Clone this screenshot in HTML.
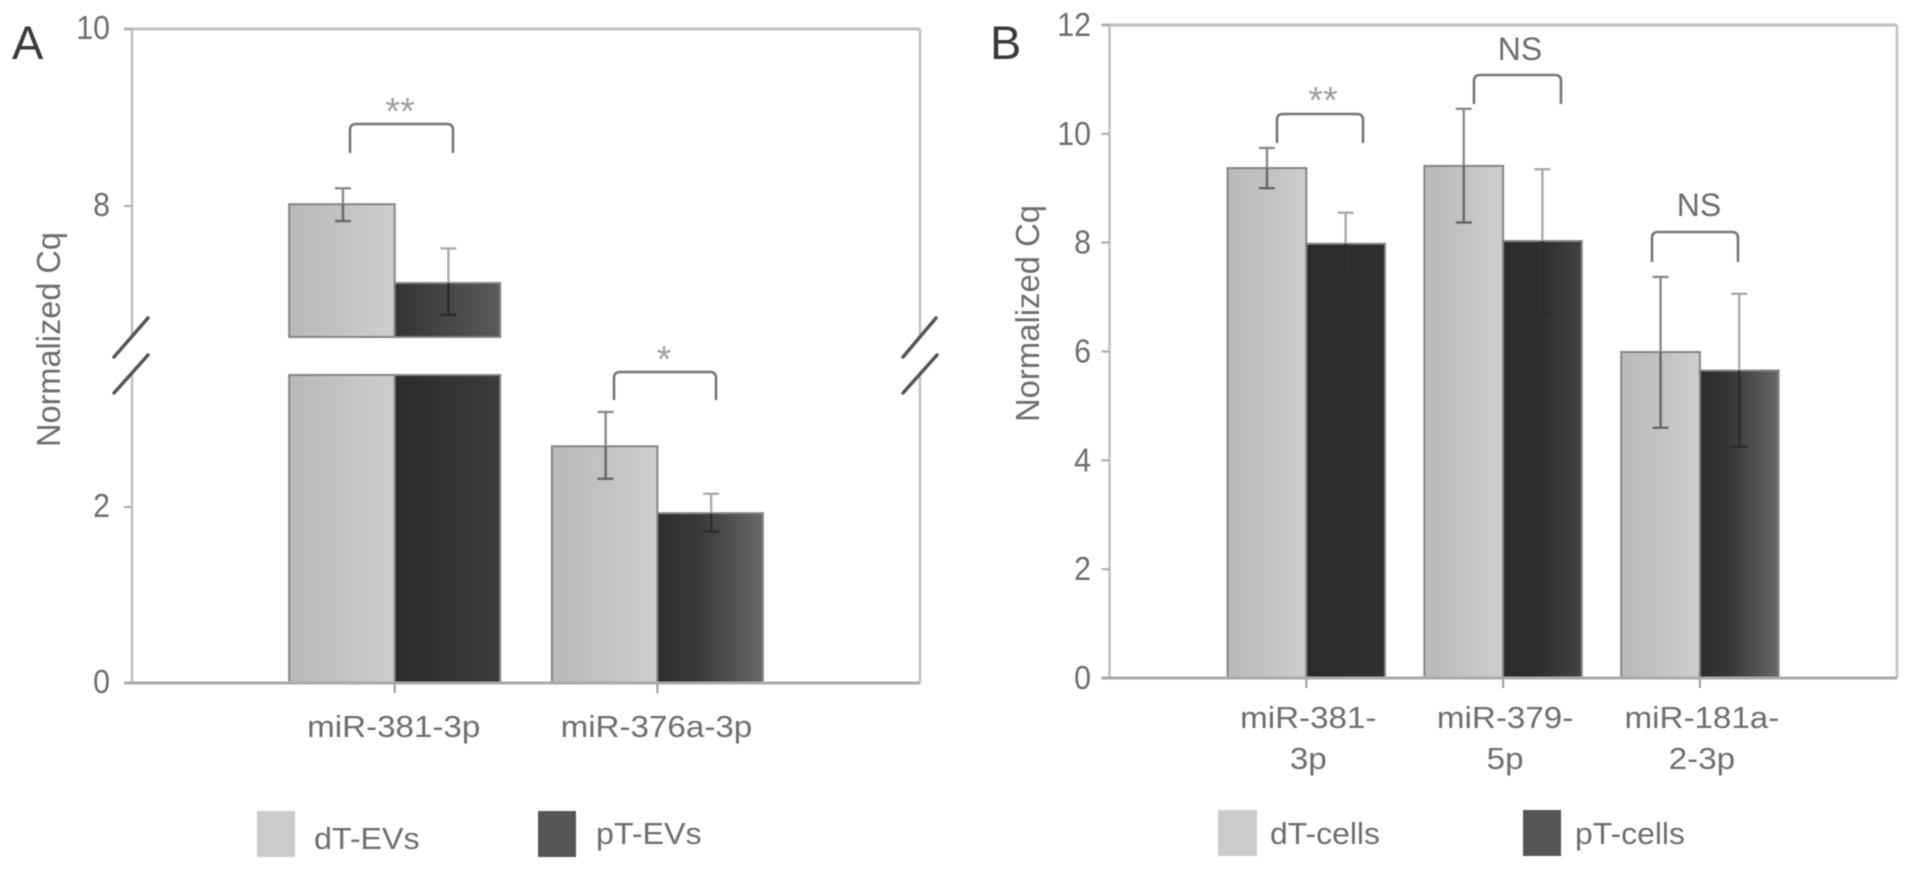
<!DOCTYPE html>
<html lang="en">
<head>
<meta charset="utf-8">
<title>Normalized Cq bar charts</title>
<style>
html,body{margin:0;padding:0;background:#fff;width:1913px;height:870px;overflow:hidden}
svg{display:block;filter:blur(0.6px)}
text{font-family:"Liberation Sans",sans-serif;fill:#6e6e6e}
</style>
</head>
<body>
<svg id="figure" xmlns="http://www.w3.org/2000/svg" width="1913" height="870" viewBox="0 0 1913 870">
  <defs>
    <linearGradient id="light-bar"><stop offset="0" stop-color="#b9b9b9"/><stop offset="0.55" stop-color="#c4c4c4"/><stop offset="1" stop-color="#cecece"/></linearGradient>
    <linearGradient id="dark-a0"><stop offset="0" stop-color="#2c2c2c"/><stop offset="1" stop-color="#3c3c3c"/></linearGradient>
    <linearGradient id="dark-a0-top"><stop offset="0" stop-color="#333"/><stop offset="1" stop-color="#5a5a5a"/></linearGradient>
    <linearGradient id="dark-a1"><stop offset="0" stop-color="#2e2e2e"/><stop offset="0.4" stop-color="#3a3a3a"/><stop offset="1" stop-color="#686868"/></linearGradient>
    <linearGradient id="dark-b0"><stop offset="0" stop-color="#2c2c2c"/><stop offset="1" stop-color="#303030"/></linearGradient>
    <linearGradient id="dark-b1"><stop offset="0" stop-color="#2c2c2c"/><stop offset="0.5" stop-color="#2e2e2e"/><stop offset="1" stop-color="#444"/></linearGradient>
    <linearGradient id="dark-b2"><stop offset="0" stop-color="#2c2c2c"/><stop offset="0.4" stop-color="#383838"/><stop offset="1" stop-color="#686868"/></linearGradient>
  </defs>

  <g id="panel-a"></g>
  <g id="panel-b"></g>

  <text x="12" y="59" font-size="47" style="fill:#3a3a3a">A</text>
  <text x="990" y="59" font-size="47" style="fill:#3a3a3a">B</text>

  <text transform="translate(60,339.5) rotate(-90) scale(0.985,1)" text-anchor="middle" font-size="33">Normalized Cq</text>
  <text transform="translate(1039,313.5) rotate(-90) scale(0.995,1)" text-anchor="middle" font-size="33">Normalized Cq</text>

  <g stroke="#555" stroke-width="3.5" stroke-linecap="round">
    <line x1="148" y1="318" x2="114" y2="357"/><line x1="148" y1="355" x2="114" y2="393"/>
  </g>
  <g stroke="#555" stroke-width="3.5" stroke-linecap="round">
    <line x1="936" y1="318" x2="903" y2="357"/><line x1="937" y1="355" x2="903" y2="393"/>
  </g>

  <g fill="none" stroke="#777" stroke-width="2.6">
    <path d="M350 153V130Q350 124 356 124H447Q453 124 453 130V153"/>
    <path d="M614 400V378Q614 372 620 372H710Q716 372 716 378V400"/>
    <path d="M1277 143V120Q1277 114 1283 114H1357Q1363 114 1363 120V143"/>
    <path d="M1474 104V81Q1474 75 1480 75H1555Q1561 75 1561 81V104"/>
    <path d="M1652 262V238Q1652 232 1658 232H1732Q1738 232 1738 238V262"/>
  </g>
  <text x="400" y="124" text-anchor="middle" font-size="38" style="fill:#a0a0a0">**</text>
  <text x="664" y="372" text-anchor="middle" font-size="38" style="fill:#a0a0a0">*</text>
  <text x="1323" y="113" text-anchor="middle" font-size="38" style="fill:#a0a0a0">**</text>
  <text x="1520" y="60" text-anchor="middle" font-size="32">NS</text>
  <text x="1699" y="216" text-anchor="middle" font-size="32">NS</text>

  <rect x="257" y="811" width="38" height="46" fill="#cbcbcb"/>
  <text transform="translate(314,849) scale(1.04,1)" font-size="31">dT-EVs</text>
  <rect x="538" y="811" width="38" height="46" fill="#555"/>
  <text transform="translate(596,844) scale(1.04,1)" font-size="31">pT-EVs</text>
  <rect x="1218" y="810" width="39" height="46" fill="#cbcbcb"/>
  <text transform="translate(1270,844) scale(1.03,1)" font-size="31">dT-cells</text>
  <rect x="1523" y="810" width="38" height="46" fill="#555"/>
  <text transform="translate(1575,844) scale(1.03,1)" font-size="31">pT-cells</text>
</svg>

<script>
// Panel A data
const aCategories = ["miR-381-3p", "miR-376a-3p"];
const aTicks = [0, 2, 8, 10];
const aDtValues = [8.02, 2.69];
const aDtErrHigh = [8.2, 3.08];
const aDtErrLow = [7.83, 2.32];
const aPtValues = [7.13, 1.93];
const aPtErrHigh = [7.52, 2.15];
const aPtErrLow = [6.77, 1.72];
const aBreakLow = 3.5;
const aBreakHigh = 6.52;

// Panel B data
const bCategoryLine1 = ["miR-381-", "miR-379-", "miR-181a-"];
const bCategoryLine2 = ["3p", "5p", "2-3p"];
const bTicks = [0, 2, 4, 6, 8, 10, 12];
const bDtValues = [9.37, 9.41, 5.99];
const bDtErrHigh = [9.74, 10.46, 7.37];
const bDtErrLow = [9.0, 8.37, 4.6];
const bPtValues = [7.98, 8.03, 5.65];
const bPtErrHigh = [8.55, 9.35, 7.06];
const bPtErrLow = [7.41, 6.7, 4.25];

const NS = "http://www.w3.org/2000/svg";

function make(parent, tag, props) {
  const el = document.createElementNS(NS, tag);
  for (const k in props) el.setAttribute(k, props[k]);
  parent.appendChild(el);
  return el;
}

// Axis functions
function yA(v) {
  if (v <= aBreakLow) return 683 - v * 88;
  if (v >= aBreakHigh) return 206 - (v - 8) * 88.5;
  return 375 - (v - aBreakLow) / (aBreakHigh - aBreakLow) * 38;
}
function yB(v) { return 678 - v * 54.42; }
function xA(i) { return 132 + (i + 1) * 262.7; }
function xB(i) { return 1109.5 + (i + 1) * 196.8; }

const AXIS_COLOR = "#c2c2c2";

function drawFrame(g, prefix, left, right, top, bottom, gapTop, gapBottom) {
  const tl = make(g, "line", {x1: left - 8, y1: top, x2: right, y2: top, stroke: AXIS_COLOR, "stroke-width": 3});
  
  
  [[left, "left"], [right, "right"]].forEach(function (side) {
    const ranges = gapTop ? [[top, gapTop], [gapBottom, bottom]] : [[top, bottom]];
    ranges.forEach(function (r) {
      const s = make(g, "line", {x1: side[0], y1: r[0], x2: side[0], y2: r[1], stroke: AXIS_COLOR, "stroke-width": 2.6});
      
      
    });
  });
}

function drawYTicks(g, prefix, ticks, yFn, left, labelRight, labelShift) {
  ticks.forEach(function (t) {
    const y = yFn(t);
    const tick = make(g, "line", {x1: left - 8, y1: y, x2: left, y2: y, stroke: "#aaa", "stroke-width": 2});
    
    
    const label = make(g, "text", {transform: "translate(" + labelRight + "," + (y + labelShift) + ") scale(0.92,1)", "text-anchor": "end", "font-size": 33});
    label.textContent = String(t);
    
    
  });
}

function drawRect(g, name, x, w, yTop, yBottom, fill) {
  const r = make(g, "rect", {x: x, y: yTop, width: w, height: Math.max(0, yBottom - yTop), fill: fill, stroke: "#858585", "stroke-width": 2});
  
  
}

function drawError(g, name, x, yHigh, yLow, yBarTop, upperColor, lowerColor, capHalf) {
  const err = make(g, "g", {});
  
  
  make(err, "line", {x1: x, y1: yHigh, x2: x, y2: yBarTop, stroke: upperColor, "stroke-width": 2.4});
  make(err, "line", {x1: x, y1: yBarTop, x2: x, y2: yLow, stroke: lowerColor, "stroke-width": 2.4});
  make(err, "line", {x1: x - capHalf, y1: yHigh, x2: x + capHalf, y2: yHigh, stroke: upperColor, "stroke-width": 2.4});
  make(err, "line", {x1: x - capHalf, y1: yLow, x2: x + capHalf, y2: yLow, stroke: lowerColor, "stroke-width": 2.4});
}

// Panel A
(function () {
  const g = document.getElementById("panel-a");
  const bw = 105.5;
  drawFrame(g, "panel-a", 132, 920, 29, 683, 337, 375);
  aCategories.forEach(function (cat, i) {
    const cx = xA(i);
    [[aDtValues, "dt-evs", -bw, "url(#light-bar)", "url(#light-bar)"],
     [aPtValues, "pt-evs", 0, "url(#dark-a" + i + ")", i === 0 ? "url(#dark-a0-top)" : "url(#dark-a" + i + ")"]].forEach(function (s) {
      const v = s[0][i];
      const name = "bar-" + cat + "-" + s[1];
      if (v > aBreakHigh) {
        drawRect(g, name + "-lower", cx + s[2], bw, yA(aBreakLow), yA(0), s[3]);
        drawRect(g, name + "-upper", cx + s[2], bw, yA(v), yA(aBreakHigh), s[4]);
      } else {
        drawRect(g, name, cx + s[2], bw, yA(v), yA(0), s[3]);
      }
    });
    drawError(g, "error-bar-" + cat + "-dt-evs", cx - bw / 2 + 1, yA(aDtErrHigh[i]), yA(aDtErrLow[i]), yA(aDtValues[i]), "#8a8a8a", "#666", 8);
    drawError(g, "error-bar-" + cat + "-pt-evs", cx + bw / 2 + 1, yA(aPtErrHigh[i]), yA(aPtErrLow[i]), yA(aPtValues[i]), "#aaa", "#2c2c2c", 8);
    const xt = make(g, "line", {x1: cx, y1: 683, x2: cx, y2: 693, stroke: "#999", "stroke-width": 2});
    
    
    const lab = make(g, "text", {transform: "translate(" + (cx - 1) + ",737) scale(1.07,1)", "text-anchor": "middle", "font-size": 31});
    lab.textContent = cat;
    
    
  });
  const base = make(g, "line", {x1: 124, y1: 683, x2: 920, y2: 683, stroke: "#aaa", "stroke-width": 3});
  
  
  drawYTicks(g, "panel-a", aTicks, yA, 132, 110, 10);
})();

// Panel B
(function () {
  const g = document.getElementById("panel-b");
  const bw = 78.7;
  drawFrame(g, "panel-b", 1109.5, 1897, 25, 678);
  bCategoryLine1.forEach(function (line1, i) {
    const cx = xB(i);
    const cat = line1 + bCategoryLine2[i];
    drawRect(g, "bar-" + cat + "-dt-cells", cx - bw, bw, yB(bDtValues[i]), yB(0), "url(#light-bar)");
    drawRect(g, "bar-" + cat + "-pt-cells", cx, bw, yB(bPtValues[i]), yB(0), "url(#dark-b" + i + ")");
    drawError(g, "error-bar-" + cat + "-dt-cells", cx - bw / 2, yB(bDtErrHigh[i]), yB(bDtErrLow[i]), yB(bDtValues[i]), "#8a8a8a", "#666", 8);
    drawError(g, "error-bar-" + cat + "-pt-cells", cx + bw / 2, yB(bPtErrHigh[i]), yB(bPtErrLow[i]), yB(bPtValues[i]), "#aaa", "#2c2c2c", 8);
    const xt = make(g, "line", {x1: cx, y1: 678, x2: cx, y2: 688, stroke: "#999", "stroke-width": 2});
    
    
    const lab1 = make(g, "text", {transform: "translate(" + (cx + 2) + ",728) scale(1.07,1)", "text-anchor": "middle", "font-size": 31});
    lab1.textContent = line1;
    
    
    const lab2 = make(g, "text", {transform: "translate(" + (cx + 2) + ",769) scale(1.07,1)", "text-anchor": "middle", "font-size": 31});
    lab2.textContent = bCategoryLine2[i];
    
    
  });
  const base = make(g, "line", {x1: 1101.5, y1: 678, x2: 1897, y2: 678, stroke: "#aaa", "stroke-width": 3});
  
  
  drawYTicks(g, "panel-b", bTicks, yB, 1109.5, 1091, 11);
})();
</script>
</body>
</html>
